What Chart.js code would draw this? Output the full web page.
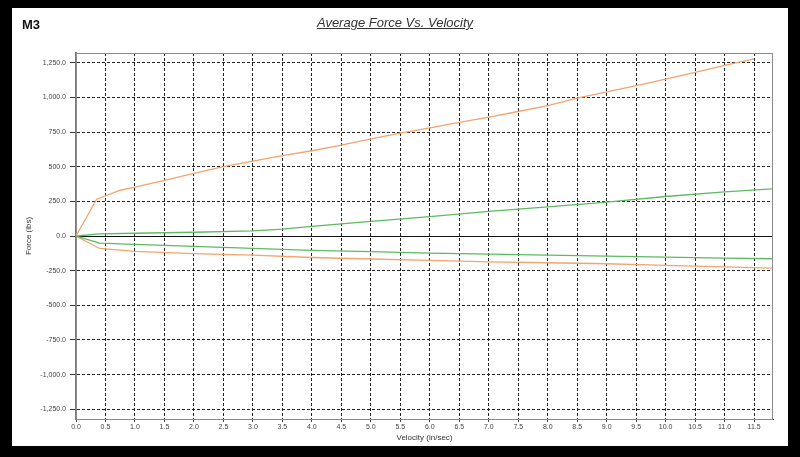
<!DOCTYPE html>
<html>
<head>
<meta charset="utf-8">
<script src="https://cdn.jsdelivr.net/npm/chart.js@4"></script>
<style>
  html, body { margin:0; padding:0; background:#000; width:800px; height:457px; overflow:hidden; }
  #panel { position:absolute; left:12px; top:8px; width:776px; height:438px; background:#fff; }
  #cv { position:absolute; left:0; top:0; }
  #m3 { position:absolute; left:10px; top:9px; font:bold 13px "Liberation Sans", Arial, sans-serif; color:#111; }
  #ttl { position:absolute; left:0; width:766px; top:7px; text-align:center; font:italic 13px "Liberation Sans", Arial, sans-serif; color:#333; text-decoration:underline; }
</style>
</head>
<body>
<div id="panel">
  <canvas id="cv" width="776" height="438"></canvas>
  <div id="m3">M3</div>
  <div id="ttl">Average Force Vs. Velocity</div>
</div>
<script>
const xTicks = [0,0.5,1,1.5,2,2.5,3,3.5,4,4.5,5,5.5,6,6.5,7,7.5,8,8.5,9,9.5,10,10.5,11,11.5];
const yTicks = [-1250,-1000,-750,-500,-250,0,250,500,750,1000,1250];

const orangeUpX = [0,0.35,0.75,1,1.5,2,2.5,3,3.5,4,4.5,5,5.5,6,6.5,7,7.5,8,8.5,9,9.5,10,10.5,11,11.5];
const orangeUpY = [0,265,330,352,402,452,500,540,580,615,655,700,742,780,820,858,898,940,995,1040,1085,1132,1180,1230,1278];

const greenUpX = [0,0.4,1,2,3,3.5,4,5,6,7,8,9,10,11,11.8];
const greenUpY = [0,15,20,27,37,50,70,105,140,177,210,245,285,318,340];

const greenLoX = [0,0.4,1,2,3,4,5,6,7,8,9,10,11,11.8];
const greenLoY = [0,-52,-60,-75,-89,-104,-113,-124,-131,-138,-145,-153,-159,-164];

const orangeLoX = [0,0.4,1,2,3,4,5,6,7,8,9,10,11,11.8];
const orangeLoY = [0,-90,-111,-127,-138,-155,-166,-176,-186,-193,-200,-212,-222,-232];

const xMin = 0, xMax = 11.82, yMin = -1320, yMax = 1320;

const pts = (xs, ys) => xs.map((x, i) => ({x, y: ys[i]}));
const orange = '#F2A46E', green = '#5DBA62';

const framePlugin = {
  id: 'frame',
  beforeDatasetsDraw(chart) {
    const {ctx, chartArea: a, scales} = chart;
    ctx.save();
    const y0 = Math.round(scales.y.getPixelForValue(0)) + 0.5;
    ctx.strokeStyle = '#111'; ctx.lineWidth = 1.2; ctx.setLineDash([]);
    ctx.beginPath(); ctx.moveTo(a.left, y0); ctx.lineTo(a.right, y0); ctx.stroke();
    ctx.strokeStyle = '#8a8a8a'; ctx.lineWidth = 1;
    ctx.strokeRect(a.left + 0.5, a.top + 0.5, a.right - a.left - 1, a.bottom - a.top);
    ctx.restore();
  }
};

const tickFont = {family: '"Liberation Sans", Arial, sans-serif', size: 7};

new Chart(document.getElementById('cv'), {
  type: 'line',
  data: {
    datasets: [
      {data: pts(orangeUpX, orangeUpY), borderColor: orange},
      {data: pts(greenUpX, greenUpY), borderColor: green},
      {data: pts(greenLoX, greenLoY), borderColor: green},
      {data: pts(orangeLoX, orangeLoY), borderColor: orange}
    ]
  },
  options: {
    responsive: false,
    animation: false,
    layout: {padding: {left: 0, top: 45, right: 15, bottom: 0}},
    elements: {point: {radius: 0}, line: {borderWidth: 1.3, tension: 0}},
    plugins: {legend: {display: false}, tooltip: {enabled: false}, title: {display: false}},
    scales: {
      x: {
        type: 'linear', min: xMin, max: xMax,
        afterBuildTicks: s => { s.ticks = xTicks.map(v => ({value: v})); },
        afterFit: s => { s.height = 27; },
        ticks: {font: tickFont, color: '#444', padding: 1, maxRotation: 0, autoSkip: false,
                callback: v => Number(v).toFixed(1)},
        grid: {color: '#222', lineWidth: 1, tickLength: 3, tickColor: '#444'},
        border: {display: true, color: '#333', width: 1, dash: [3, 2]},
        title: {display: true, text: 'Velocity (in/sec)', color: '#333',
                font: {family: '"Liberation Sans", Arial, sans-serif', size: 8}, padding: {top: 0, bottom: 3}}
      },
      y: {
        type: 'linear', min: yMin, max: yMax,
        afterBuildTicks: s => { s.ticks = yTicks.map(v => ({value: v})); },
        afterFit: s => { s.width = 64; },
        ticks: {font: tickFont, color: '#444', padding: 4,
                callback: v => Number(v).toLocaleString('en-US', {minimumFractionDigits: 1, maximumFractionDigits: 1})},
        grid: {color: '#222', lineWidth: 1, tickLength: 6, tickColor: '#333'},
        border: {display: true, color: '#7a7a7a', width: 2, dash: [3, 2]},
        title: {display: true, text: 'Force (lbs)', color: '#333',
                font: {family: '"Liberation Sans", Arial, sans-serif', size: 8}, padding: {top: 12, bottom: 0}}
      }
    }
  },
  plugins: [framePlugin]
});
</script>
</body>
</html>
